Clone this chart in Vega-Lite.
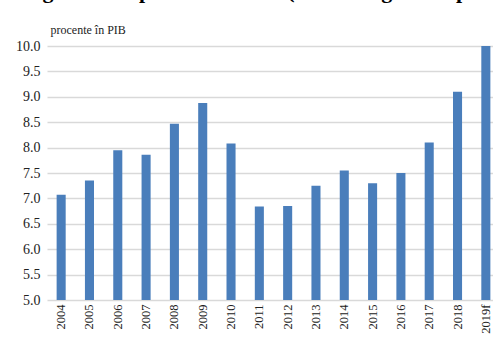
{
  "$schema": "https://vega.github.io/schema/vega-lite/v6.json",
  "width": 453,
  "height": 254,
  "autosize": {"type": "none"},
  "padding": {"left": 47, "top": 46, "right": 0, "bottom": 37},
  "background": "white",
  "title": {
    "text": "Cheltuielile bugetului ca pondere în PIB (metodologie europeană)",
    "anchor": "start",
    "frame": "group",
    "font": "Liberation Serif",
    "fontSize": 22,
    "fontWeight": "bold",
    "color": "#000000",
    "offset": 0,
    "dx": -142,
    "dy": -20
  },
  "data": {
    "values": [
      {"year": "2004", "value": 7.07},
      {"year": "2005", "value": 7.35},
      {"year": "2006", "value": 7.95},
      {"year": "2007", "value": 7.86},
      {"year": "2008", "value": 8.47},
      {"year": "2009", "value": 8.88},
      {"year": "2010", "value": 8.08},
      {"year": "2011", "value": 6.84},
      {"year": "2012", "value": 6.85},
      {"year": "2013", "value": 7.25},
      {"year": "2014", "value": 7.55},
      {"year": "2015", "value": 7.3},
      {"year": "2016", "value": 7.5},
      {"year": "2017", "value": 8.1},
      {"year": "2018", "value": 9.1},
      {"year": "2019f", "value": 10.0}
    ]
  },
  "mark": {"type": "bar", "color": "#4a7ebb", "clip": true},
  "encoding": {
    "x": {
      "field": "year",
      "type": "nominal",
      "sort": null,
      "scale": {"paddingInner": 0.68, "paddingOuter": 0.34},
      "axis": {
        "title": null,
        "labelAngle": 270,
        "labelFont": "Liberation Serif",
        "labelFontSize": 12.5,
        "labelColor": "#222222",
        "labelPadding": 4,
        "ticks": false,
        "domain": false,
        "grid": false
      }
    },
    "y": {
      "field": "value",
      "type": "quantitative",
      "scale": {"domain": [5, 10], "nice": false, "zero": false},
      "axis": {
        "values": [5, 5.5, 6, 6.5, 7, 7.5, 8, 8.5, 9, 9.5, 10],
        "format": ".1f",
        "title": "procente în PIB",
        "titleAngle": 0,
        "titleAlign": "left",
        "titleBaseline": "alphabetic",
        "titleX": 3,
        "titleY": -13,
        "titleFont": "Liberation Serif",
        "titleFontSize": 12,
        "titleFontWeight": "normal",
        "titleColor": "#222222",
        "labelFont": "Liberation Serif",
        "labelFontSize": 14,
        "labelColor": "#222222",
        "labelPadding": 7,
        "ticks": false,
        "domain": false,
        "grid": true,
        "gridColor": "#d9d9d9",
        "gridWidth": 1.5
      }
    }
  },
  "config": {"view": {"stroke": null}}
}
